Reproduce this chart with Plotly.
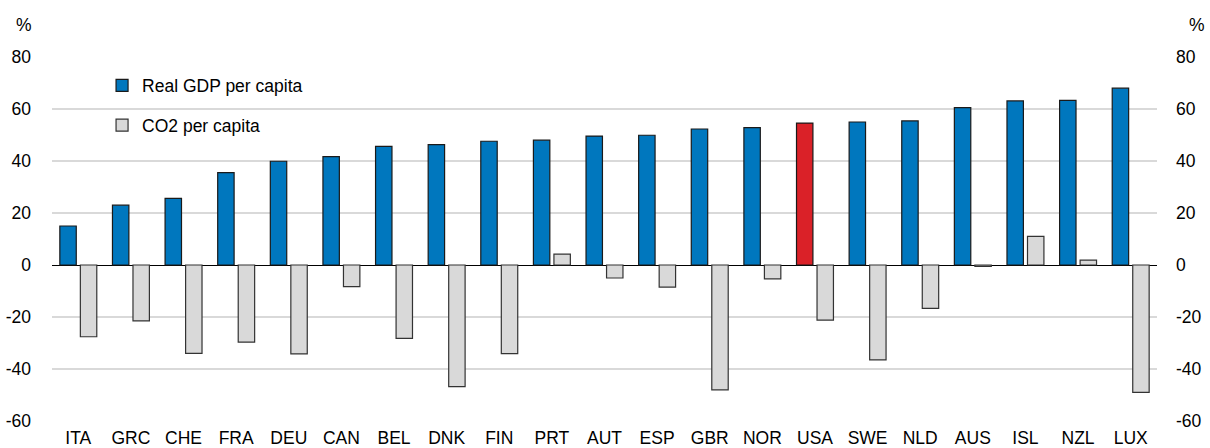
import plotly.graph_objects as go

countries = ["ITA", "GRC", "CHE", "FRA", "DEU", "CAN", "BEL", "DNK", "FIN", "PRT", "AUT",
             "ESP", "GBR", "NOR", "USA", "SWE", "NLD", "AUS", "ISL", "NZL", "LUX"]
gdp = [15.0, 23.0, 25.6, 35.5, 39.9, 41.7, 45.6, 46.3, 47.6, 48.0, 49.6,
       49.9, 52.3, 52.8, 54.6, 55.0, 55.4, 60.5, 63.1, 63.3, 68.0]
co2 = [-27.6, -21.5, -34.0, -29.7, -34.2, -8.3, -28.2, -46.8, -34.1, 4.2, -5.0,
       -8.5, -48.0, -5.3, -21.2, -36.5, -16.7, -0.5, 11.0, 1.9, -49.0]
yticks = [-60, -40, -20, 0, 20, 40, 60, 80]
yticklabels = ["-60", "-40", "-20", "0", "20", "40", "60", "80"]
highlight = "USA"

BLUE = "#0077BE"
RED = "#DA2128"
GRAY = "#D9D9D9"
FONT = "Liberation Sans, Arial, sans-serif"
FS = 17.5

gdp_colors = [RED if c == highlight else BLUE for c in countries]

fig = go.Figure()
fig.add_trace(go.Bar(x=countries, y=gdp, name="Real GDP per capita",
                     marker=dict(color=gdp_colors, line=dict(color="#1a1a1a", width=1.2)),
                     legendgroup="a"))
fig.add_trace(go.Bar(x=countries, y=co2, name="CO2 per capita",
                     marker=dict(color=GRAY, line=dict(color="#333333", width=1.2)),
                     legendgroup="b"))
# invisible companion trace so the right-hand axis is drawn
fig.add_trace(go.Scatter(x=countries, y=gdp, yaxis="y2", mode="lines",
                         line=dict(width=0, color="rgba(0,0,0,0)"), showlegend=False,
                         hoverinfo="skip"))

fig.update_layout(
    width=1210, height=448,
    margin=dict(l=52, r=53, t=57, b=27, autoexpand=False),
    paper_bgcolor="white", plot_bgcolor="white",
    barmode="group", bargap=0.22, bargroupgap=0.2,
    font=dict(family=FONT, size=FS, color="#000000"),
    showlegend=True,
    legend=dict(x=0.0453, y=0.971, xanchor="left", yanchor="top",
                bgcolor="rgba(0,0,0,0)", font=dict(size=FS),
                traceorder="grouped", tracegroupgap=14),
    xaxis=dict(range=[-0.5, len(countries) - 0.5], showgrid=False, showline=False,
               ticks="", tickfont=dict(size=FS), ticklabelstandoff=4, automargin=False),
    yaxis=dict(range=[-60, 80], tickvals=yticks, ticktext=yticklabels, showgrid=True,
               gridcolor="#D9D9D9", gridwidth=1.5, zeroline=True, zerolinecolor="#000000",
               zerolinewidth=1.3, showline=False, ticks="", ticklabelstandoff=20,
               tickfont=dict(size=FS), automargin=False),
    yaxis2=dict(range=[-60, 80], tickvals=yticks, ticktext=yticklabels, overlaying="y",
                side="right", showgrid=False, zeroline=False, showline=False, ticks="",
                ticklabelstandoff=18, tickfont=dict(size=FS), automargin=False),
    annotations=[
        dict(text="%", xref="paper", yref="paper", x=(14 - 52) / 1105, y=1.088,
             xanchor="left", yanchor="middle", showarrow=False, font=dict(size=FS)),
        dict(text="%", xref="paper", yref="paper", x=(1207 - 52) / 1105, y=1.088,
             xanchor="right", yanchor="middle", showarrow=False, font=dict(size=FS)),
    ],
)

fig.write_html("out.html", config={"displayModeBar": False},
               post_script="document.body.style.margin='0';")
